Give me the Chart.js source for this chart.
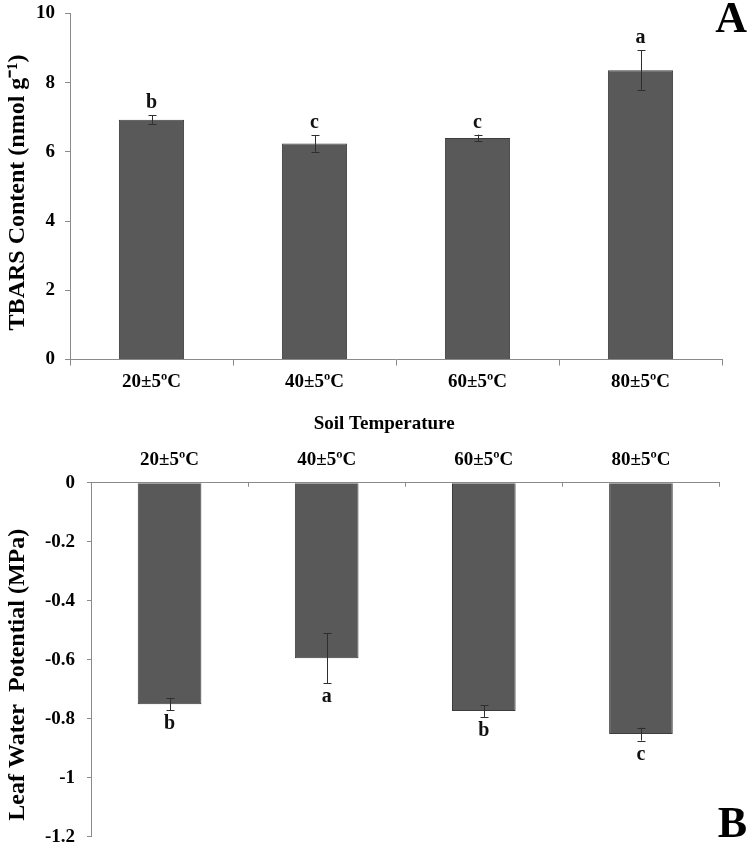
<!DOCTYPE html>
<html>
<head>
<meta charset="utf-8">
<script src="https://cdn.jsdelivr.net/npm/chart.js@4.4.1/dist/chart.umd.min.js"></script>
<style>
  html, body { margin: 0; padding: 0; background: #fff; overflow: hidden; }
  #wrapA { position: absolute; left: 0; top: -8px; width: 749px; height: 448px; }
  #wrapB { position: absolute; left: 0; top: 440px; width: 749px; height: 421px; }
</style>
</head>
<body>
<div id="wrapA"><canvas id="chartA" width="749" height="448"></canvas></div>
<div id="wrapB"><canvas id="chartB" width="749" height="421"></canvas></div>
<script>
// Soil temperature treatments
const temps = ['20±5ºC', '40±5ºC', '60±5ºC', '80±5ºC'];

// Panel A - TBARS content
const tbars = [6.93, 6.24, 6.40, 8.36];
const tbarsErr = [0.12, 0.24, 0.10, 0.58];
const tbarsLetters = ['b', 'c', 'c', 'a'];
const tbarsTicks = [0, 2, 4, 6, 8, 10];

// Panel B - leaf water potential
const lwp = [-0.751, -0.595, -0.774, -0.852];
const lwpErr = [0.02, 0.085, 0.02, 0.022];
const lwpLetters = ['b', 'a', 'b', 'c'];
const lwpTicks = [0, -0.2, -0.4, -0.6, -0.8, -1, -1.2];

const serif = '"Liberation Serif", "Times New Roman", serif';
Chart.defaults.font.family = serif;
Chart.defaults.color = '#000';

const axisGray = '#8a8a8a';
const tickFont = { family: serif, size: 19, weight: 'bold' };

// error bars + significance letters, read from the dataset values through the y scale
const errorBarPlugin = {
    id: 'errorBars',
    afterDatasetsDraw(chart, args, opts) {
        const ctx = chart.ctx;
        const y = chart.scales.y;
        const meta = chart.getDatasetMeta(0);
        ctx.save();
        meta.data.forEach((bar, i) => {
            const v = opts.values[i];
            const e = opts.errors[i];
            const yTop = y.getPixelForValue(v + e);
            const yBot = y.getPixelForValue(v - e);
            const x = Math.round(bar.x) + 0.5;
            ctx.strokeStyle = '#2e2e2e';
            ctx.lineWidth = 1;
            ctx.beginPath();
            ctx.moveTo(x, yTop); ctx.lineTo(x, yBot);
            ctx.moveTo(x - 4, Math.round(yTop) + 0.5); ctx.lineTo(x + 4, Math.round(yTop) + 0.5);
            ctx.moveTo(x - 4, Math.round(yBot) + 0.5); ctx.lineTo(x + 4, Math.round(yBot) + 0.5);
            ctx.stroke();

            ctx.fillStyle = '#111';
            ctx.font = 'bold 20px ' + serif;
            ctx.textAlign = 'center';
            if (v >= 0) {
                ctx.textBaseline = 'alphabetic';
                ctx.fillText(opts.letters[i], bar.x, yTop - 7);
            } else {
                ctx.textBaseline = 'top';
                ctx.fillText(opts.letters[i], bar.x, yBot + 4);
            }
        });
        ctx.restore();
    }
};

// big panel letter in the corner
const panelLetterPlugin = {
    id: 'panelLetter',
    afterDraw(chart, args, opts) {
        const ctx = chart.ctx;
        ctx.save();
        ctx.fillStyle = '#000';
        ctx.font = 'bold 44px ' + serif;
        ctx.textAlign = 'right';
        ctx.textBaseline = 'alphabetic';
        ctx.fillText(opts.text, chart.width - 2, opts.baseline);
        ctx.restore();
    }
};

function barDataset(values) {
    return {
        data: values,
        backgroundColor: '#595959',
        borderColor: '#3c3c3c',
        borderWidth: 1,
        categoryPercentage: 1.0,
        barPercentage: 0.4
    };
}

// ---------- Panel A ----------
new Chart(document.getElementById('chartA'), {
    type: 'bar',
    data: {
        labels: temps,
        datasets: [barDataset(tbars)]
    },
    options: {
        responsive: false,
        animation: false,
        layout: { padding: { top: 0, right: 27, bottom: 0, left: 0 } },
        plugins: {
            legend: { display: false },
            tooltip: { enabled: false },
            errorBars: { values: tbars, errors: tbarsErr, letters: tbarsLetters },
            panelLetter: { text: 'A', baseline: 40 }
        },
        scales: {
            x: {
                afterFit: s => { s.height = 80.5; },
                ticks: { color: '#000', font: tickFont, padding: 5, maxRotation: 0 },
                grid: { drawOnChartArea: false, tickLength: 6, color: axisGray, offset: true },
                border: { color: axisGray },
                title: {
                    display: true,
                    text: 'Soil Temperature     ',
                    color: '#000',
                    font: { family: serif, size: 19, weight: 'bold' },
                    padding: { top: 0, bottom: 4.6 }
                }
            },
            y: {
                min: 0,
                max: 10,
                afterFit: s => { s.width = 70; },
                afterBuildTicks: s => { s.ticks = tbarsTicks.map(v => ({ value: v })); },
                ticks: { color: '#000', font: tickFont, padding: 10, callback: v => String(v) },
                grid: { drawOnChartArea: false, tickLength: 5, color: axisGray },
                border: { color: axisGray },
                title: {
                    display: true,
                    text: 'TBARS Content (nmol g⁻¹)  ',
                    color: '#000',
                    font: { family: serif, size: 24, weight: 'bold' },
                    padding: { top: 3, bottom: 0 }
                }
            }
        }
    },
    plugins: [errorBarPlugin, panelLetterPlugin]
});

// ---------- Panel B ----------
const dsB = barDataset(lwp);
dsB.barPercentage = 0.405;

new Chart(document.getElementById('chartB'), {
    type: 'bar',
    data: {
        labels: temps,
        datasets: [dsB]
    },
    options: {
        responsive: false,
        animation: false,
        layout: { padding: { top: 0, right: 29.5, bottom: 24.3, left: 0 } },
        plugins: {
            legend: { display: false },
            tooltip: { enabled: false },
            errorBars: { values: lwp, errors: lwpErr, letters: lwpLetters },
            panelLetter: { text: 'B', baseline: 397 }
        },
        scales: {
            x: {
                position: 'top',
                afterFit: s => { s.height = 42.7; },
                ticks: { color: '#000', font: tickFont, padding: 15, maxRotation: 0 },
                grid: { drawOnChartArea: false, tickLength: -4, color: axisGray, offset: true },
                border: { color: axisGray }
            },
            y: {
                min: -1.2,
                max: 0,
                afterFit: s => { s.width = 91; },
                afterBuildTicks: s => { s.ticks = lwpTicks.map(v => ({ value: v })); },
                ticks: { color: '#000', font: tickFont, padding: 12, callback: v => String(v) },
                grid: { drawOnChartArea: false, tickLength: 4, color: axisGray },
                border: { color: axisGray },
                title: {
                    display: true,
                    text: 'Leaf Water  Potential (MPa)     ',
                    color: '#000',
                    font: { family: serif, size: 24, weight: 'bold' },
                    padding: { top: 3, bottom: 0 }
                }
            }
        }
    },
    plugins: [errorBarPlugin, panelLetterPlugin]
});
</script>
</body>
</html>
